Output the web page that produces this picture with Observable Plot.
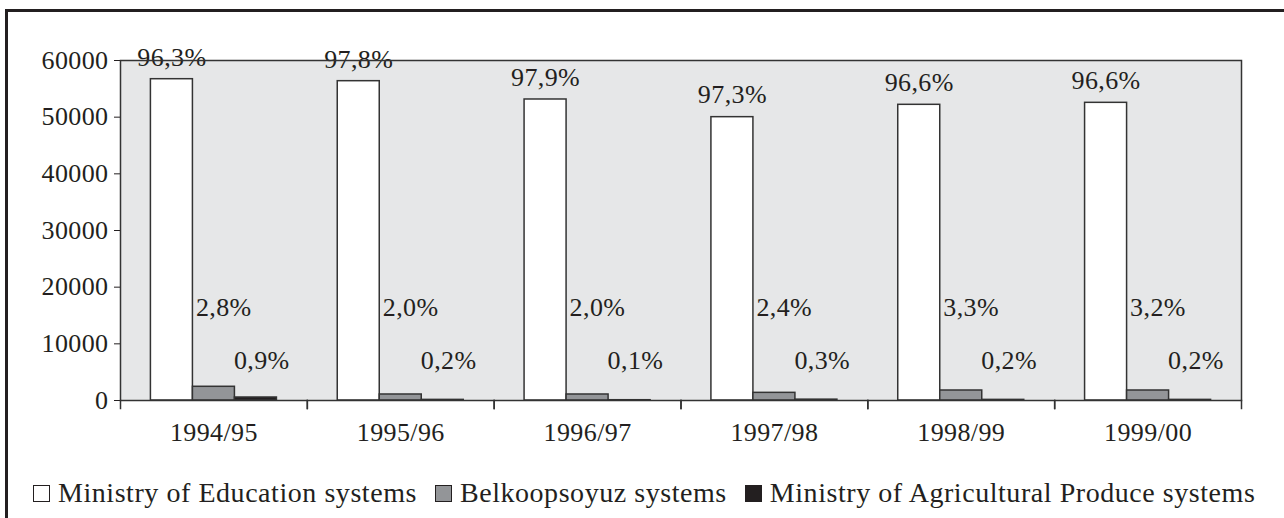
<!DOCTYPE html>
<html>
<head>
<meta charset="utf-8">
<script src="https://cdn.jsdelivr.net/npm/d3@7"></script>
<script src="https://cdn.jsdelivr.net/npm/@observablehq/plot@0.6"></script>
<style>
  html, body { margin: 0; padding: 0; background: #fff; }
  body { width: 1284px; height: 518px; position: relative; overflow: hidden; font-family: "Liberation Serif", serif; color: #231f20; }
  #border { position: absolute; left: 5px; top: 9px; width: 1400px; height: 600px; border-left: 3px solid #231f20; border-top: 3px solid #231f20; box-sizing: border-box; }
  #chart { position: absolute; left: 0; top: 0; }
  #legend { position: absolute; left: 33px; top: 476px; display: flex; align-items: center; font-size: 28px; letter-spacing: 0.55px; white-space: nowrap; line-height: 34px; }
  #legend .item { display: flex; align-items: center; margin-right: 18px; }
  #legend .sw { width: 17px; height: 17px; box-sizing: border-box; border: 1.5px solid #231f20; margin-right: 8px; }
</style>
</head>
<body>
<div id="border"></div>
<div id="chart"></div>
<div id="legend"></div>
<script>
const years = ["1994/95", "1995/96", "1996/97", "1997/98", "1998/99", "1999/00"];
const series = ["Ministry of Education systems", "Belkoopsoyuz systems", "Ministry of Agricultural Produce systems"];
const colors = ["#ffffff", "#939598", "#231f20"];
const education = [56700, 56350, 53120, 50000, 52180, 52530];
const belkoopsoyuz = [2420, 1060, 1060, 1350, 1765, 1765];
const agricultural = [530, 110, 50, 150, 110, 110];
const educationPct = ["96,3%", "97,8%", "97,9%", "97,3%", "96,6%", "96,6%"];
const belkoopsoyuzPct = ["2,8%", "2,0%", "2,0%", "2,4%", "3,3%", "3,2%"];
const agriculturalPct = ["0,9%", "0,2%", "0,1%", "0,3%", "0,2%", "0,2%"];
const yTicks = [0, 10000, 20000, 30000, 40000, 50000, 60000];

const valuesBySeries = [education, belkoopsoyuz, agricultural];
const pctBySeries = [educationPct, belkoopsoyuzPct, agriculturalPct];
const rows = [];
series.forEach((s, k) => years.forEach((yr, i) => rows.push({year: yr, series: s, value: valuesBySeries[k][i], pct: pctBySeries[k][i]})));

const chart = Plot.plot({
  width: 1284,
  height: 460,
  marginLeft: 120,
  marginRight: 43,
  marginTop: 60,
  marginBottom: 60,
  style: {fontFamily: "Liberation Serif", fontSize: "26px", color: "#231f20", background: "transparent", letterSpacing: "0.4px"},
  fx: {domain: years, padding: 0, round: false, axis: "bottom", tickSize: 0, tickPadding: 22, label: null},
  x: {domain: series, paddingInner: 0, paddingOuter: 0.724, round: false, axis: null},
  y: {domain: [0, 60000], ticks: yTicks, tickFormat: d3.format("d"), tickSize: 6, tickPadding: 6, label: null},
  color: {domain: series, range: colors},
  marks: [
    Plot.frame({fill: "#e6e7e8", shapeRendering: "crispEdges"}),
    Plot.barY(rows, {fx: "year", x: "series", y: "value", fill: "series", stroke: "#333", strokeWidth: 1.5}),
    Plot.text(rows.filter(d => d.series === series[0]), {fx: "year", x: "series", y: "value", text: "pct", dy: -22, fill: "#231f20"}),
    Plot.text(rows.filter(d => d.series === series[1]), {fx: "year", x: "series", frameAnchor: "bottom", text: "pct", dy: -85, dx: -18, textAnchor: "start", fill: "#231f20"}),
    Plot.text(rows.filter(d => d.series === series[2]), {fx: "year", x: "series", frameAnchor: "bottom", text: "pct", dy: -32, dx: -22, textAnchor: "start", fill: "#231f20"}),
    Plot.frame({anchor: "left", insetTop: 340, insetBottom: -8, stroke: "#333", strokeWidth: 1.5}),
    Plot.frame({anchor: "right", insetTop: 340, insetBottom: -8, stroke: "#333", strokeWidth: 1.5}),
    Plot.frame({facet: "super", stroke: "#333", strokeWidth: 1.5})
  ]
});
document.getElementById("chart").appendChild(chart);

const legend = document.getElementById("legend");
series.forEach((s, k) => {
  const item = document.createElement("div");
  item.className = "item";
  const sw = document.createElement("span");
  sw.className = "sw";
  sw.style.background = colors[k];
  item.appendChild(sw);
  const t = document.createElement("span");
  t.textContent = s;
  item.appendChild(t);
  legend.appendChild(item);
});
</script>
</body>
</html>
